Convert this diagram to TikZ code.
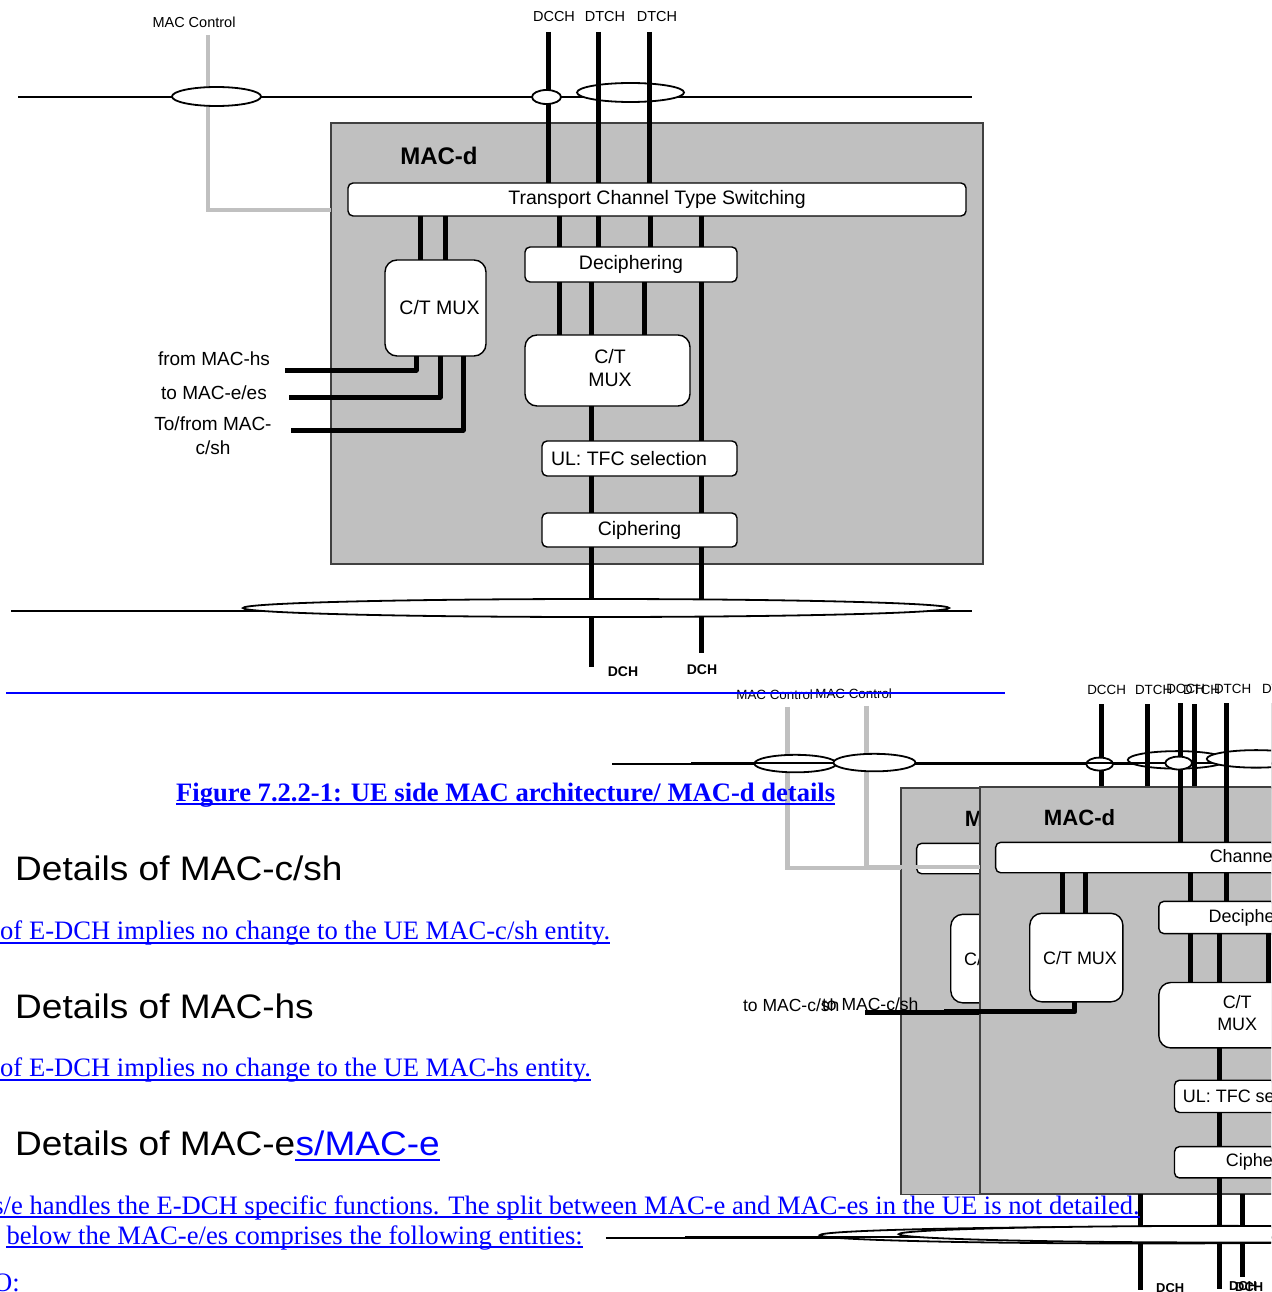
\documentclass[tikz,border=0pt]{standalone}
\usepackage{fontspec}
\setmainfont{Liberation Serif}
\newfontfamily\arialf{Liberation Sans}
\newfontfamily\headf[FakeStretch=1.09]{Liberation Sans}
\newfontfamily\tnrf{Liberation Serif}
\usetikzlibrary{shapes.geometric}
\definecolor{macgray}{HTML}{C0C0C0}
\definecolor{linkblue}{HTML}{0000FF}

\tikzset{
 macbox/.style={draw=black!75, line width=1.2pt, fill=macgray, inner sep=0pt, outer sep=0pt},
 wbox/.style={draw=black, line width=1.4pt, fill=white, rounded corners=5pt, inner sep=0pt, outer sep=0pt, font=\arialf\fontsize{19.5pt}{23pt}\selectfont},
 mbox/.style={wbox, rounded corners=12pt, align=center},
 ell/.style={ellipse, draw=black, line width=1.8pt, fill=white, inner sep=0pt, outer sep=0pt},
 chan/.style={line width=5pt, draw=black, line join=round},
 baseln/.style={line width=2.5pt, draw=black},
 ctl/.style={line width=4.5pt, draw=macgray},
 lbl/.style={font=\arialf\fontsize{14.5pt}{17pt}\selectfont, inner sep=0pt},
 dchl/.style={font=\arialf\bfseries\fontsize{14pt}{17pt}\selectfont, inner sep=0pt},
 sidel/.style={font=\arialf\fontsize{19pt}{24pt}\selectfont, inner sep=0pt, align=center},
 ttl/.style={font=\arialf\bfseries\fontsize{24pt}{28pt}\selectfont, inner sep=0pt},
 btext/.style={font=\tnrf\fontsize{26.6pt}{30pt}\selectfont, text=linkblue, inner sep=0pt},
 htext/.style={font=\headf\fontsize{34pt}{40pt}\selectfont, inner sep=0pt, anchor=base west},
 uline/.style={draw=linkblue, line width=2pt},
}

% #1 prefix, #2 switching text, #3 y of DCH labels
\newcommand\macdiag[3]{%
 \node[macbox, minimum width=652pt, minimum height=441pt] (#1box) at (657,343.5) {};
 \node[ttl] (#1title) at (439,156) {MAC-d};
 \node[wbox, minimum width=618pt, minimum height=33pt] (#1tcts) at (657,199.5) {#2};
 \node[wbox, minimum width=212pt, minimum height=35pt] (#1dec) at (631,264.5) {Deciphering};
 \node[mbox, minimum width=101pt, minimum height=96pt] (#1ctma) at (435.5,308) {\hspace*{8pt}C/T MUX};
 \node[mbox, minimum width=165pt, minimum height=71pt] (#1ctmb) at (607.5,370.5) {\raisebox{3pt}{\begin{tabular}{@{}c@{}}\hspace*{5pt}C/T\\\hspace*{5pt}MUX\end{tabular}}};
 \node[wbox, minimum width=195pt, minimum height=35pt] (#1ul) at (639.5,458.5) {\makebox[177pt][l]{UL: TFC selection}};
 \node[wbox, minimum width=195pt, minimum height=34pt] (#1ci) at (639.5,530) {Ciphering};
 % internal connectors
 \foreach \x in {420,445} \draw[chan] (\x,0 |- #1tcts.south) -- (\x,0 |- #1ctma.north);
 \foreach \x in {559,598,650,701} \draw[chan] (\x,0 |- #1tcts.south) -- (\x,0 |- #1dec.north);
 \foreach \x in {559,591,644} \draw[chan] (\x,0 |- #1dec.south) -- (\x,0 |- #1ctmb.north);
 \draw[chan] (701,0 |- #1dec.south) -- (701,0 |- #1ul.north);
 \draw[chan] (591,0 |- #1ctmb.south) -- (591,0 |- #1ul.north);
 \foreach \x in {591,701} \draw[chan] (\x,0 |- #1ul.south) -- (\x,0 |- #1ci.north);
 % top channels
 \coordinate (#1bl) at (18,97);
 \coordinate (#1br) at (972,97);
 \draw[baseln] (#1bl) -- (#1br);
 \node[ell, minimum width=107pt, minimum height=19pt] (#1eb) at (630.5,92.5) {};
 \coordinate (#1ch1) at (548,32);
 \coordinate (#1ch2) at (598,32);
 \coordinate (#1ch3) at (649,32);
 \draw[chan] (#1ch2) -- (#1ch2 |- #1tcts.north);
 \draw[chan] (#1ch3) -- (#1ch3 |- #1tcts.north);
 \draw[chan] (#1ch1) -- (#1ch1 |- #1tcts.north);
 \node[ell, minimum width=29pt, minimum height=14pt] (#1ea) at (546.5,97) {};
 \coordinate (#1g) at (208,35);
 \draw[ctl] (#1g) |- (#1box.west |- 0,210);
 \node[ell, minimum width=89pt, minimum height=19pt] (#1em) at (216.5,96.5) {};
 % bottom channels
 \coordinate (#1da) at (591,667);
 \coordinate (#1db) at (701,653);
 \draw[chan] (#1da |- #1ci.south) -- (#1da);
 \draw[chan] (#1db |- #1ci.south) -- (#1db);
 \coordinate (#1ll) at (11,611);
 \coordinate (#1lr) at (972,611);
 \draw[baseln] (#1ll) -- (#1lr);
 \node[ell, minimum width=706pt, minimum height=18pt] (#1ef) at (596,608) {};
 % labels
 \node[lbl] (#1lmc) at (194,22) {MAC Control};
 \node[lbl] (#1lcc) at (554,17) {DCCH};
 \node[lbl] (#1lt1) at (605,17) {DTCH};
 \node[lbl] (#1lt2) at (657,17) {DTCH};
 \node[dchl] (#1ld1) at (623,#3) {DCH};
 \node[dchl] (#1ld2) at (702,#3-2) {DCH};
}

\begin{document}
\begin{tikzpicture}[x=1pt, y=-1pt]
\useasboundingbox (0,0) rectangle (1271,1292);
\clip (0,0) rectangle (1271,1292);
\fill[white] (0,0) rectangle (1271,1292);

% ---- upper figure ----
\macdiag{T}{Transport Channel Type Switching}{672}
\node[sidel] (Tlhs) at (214,359) {from MAC-hs};
\node[sidel] (Tles) at (214,393) {to MAC-e/es};
\node[sidel] (Tlcs) at (213,436) {To/from MAC-\\c/sh};
\coordinate (Tshs) at (285,370);
\coordinate (Tses) at (289,397);
\coordinate (Tscs) at (291,430);
\draw[chan] (Tshs) -| (416,0 |- Tctma.south);
\draw[chan] (Tses) -| (440,0 |- Tctma.south);
\draw[chan] (Tscs) -| (463,0 |- Tctma.south);

% ---- lower copies ----
\begin{scope}[shift={(595.8,674.6)}, scale=0.922, transform shape]
 \macdiag{B}{}{665}
 \node[anchor=west, inner sep=0pt, font=\arialf\fontsize{19.5pt}{23pt}\selectfont] (Btxt) at (580,199.5) {Channel Type Switching};
 \node[sidel] (Blcs) at (212,359) {to MAC-c/sh};
 \coordinate (Bs) at (292,367);
 \draw[chan] (Bs) -| (434,0 |- Bctma.south);
\end{scope}
\begin{scope}[shift={(674.8,673.6)}, scale=0.922, transform shape]
 \macdiag{F}{}{665}
 \node[anchor=west, inner sep=0pt, font=\arialf\fontsize{19.5pt}{23pt}\selectfont] (Ftxt) at (580,199.5) {Channel Type Switching};
 \node[sidel] (Flcs) at (212,359) {to MAC-c/sh};
 \coordinate (Fs) at (292,367);
 \draw[chan] (Fs) -| (434,0 |- Fctma.south);
\end{scope}

% ---- page text ----
\coordinate (bll) at (6,693);
\coordinate (blr) at (1005,693);
\draw[draw=linkblue, line width=2.2pt] (bll) -- (blr);

\node[btext, font=\tnrf\bfseries\fontsize{26.6pt}{30pt}\selectfont, anchor=base west] (cap) at (176,801) {Figure 7.2.2-1: UE side MAC architecture/ MAC-d details};
\draw[uline] ([yshift=-2.5pt]cap.base west) -- ([yshift=-2.5pt]cap.base east);

\node[htext] (h1) at (15,880) {Details of MAC-c/sh};
\node[htext] (h2) at (15,1018) {Details of MAC-hs};
\node[htext] (h3) at (15,1155) {Details of MAC-e};
\node[htext, text=linkblue] (h3b) at (h3.base east) {s/MAC-e};
\draw[uline, line width=2.5pt] ([yshift=-5pt]h3b.base west) -- ([yshift=-5pt]h3b.base east);

\node[btext, anchor=base west] (p1) at (0,939) {of E-DCH implies no change to the UE MAC-c/sh entity.};
\draw[uline] ([yshift=-3.5pt]p1.base west) -- ([yshift=-3.5pt]p1.base east);
\node[btext, anchor=base west] (p2) at (0,1076) {of E-DCH implies no change to the UE MAC-hs entity.};
\draw[uline] ([yshift=-3.5pt]p2.base west) -- ([yshift=-3.5pt]p2.base east);
\node[btext, anchor=base east] (p3) at (1140,1214) {s/e handles the E-DCH specific functions. The split between MAC-e and MAC-es in the UE is not detailed.};
\draw[uline] ([yshift=-3pt]p3.base west) -- ([yshift=-3pt]p3.base east);
\node[btext, anchor=base east] (p4) at (583,1244) {below the MAC-e/es comprises the following entities:};
\draw[uline] ([yshift=-3pt]p4.base west) -- ([yshift=-3pt]p4.base east);
\node[btext, anchor=base west] (p5) at (-7,1291) {O:};
\end{tikzpicture}
\end{document}
